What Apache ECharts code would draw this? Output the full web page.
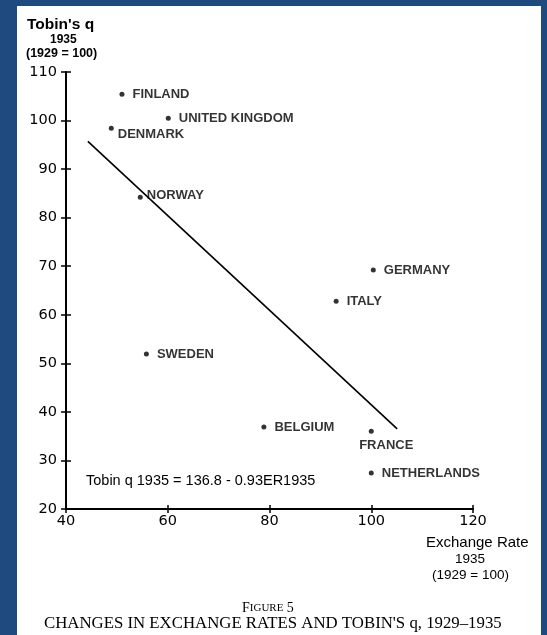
<!DOCTYPE html>
<html>
<head>
<meta charset="utf-8">
<script src="https://cdn.jsdelivr.net/npm/echarts@6/dist/echarts.min.js"></script>
<style>
html,body{margin:0;padding:0;background:#1f4a7f;}
#paper{position:absolute;left:17px;top:6px;width:524px;height:629px;background:#ffffff;}
#chart{position:absolute;left:0;top:0;width:547px;height:635px;}
</style>
</head>
<body>
<div id="paper"></div>
<div id="chart"></div>
<script>
const countries = ['FINLAND','UNITED KINGDOM','DENMARK','NORWAY','SWEDEN','BELGIUM','GERMANY','ITALY','FRANCE','NETHERLANDS'];
const exchangeRate = [51.0, 60.1, 48.9, 54.6, 55.8, 78.9, 100.4, 93.1, 100.0, 100.0];
const tobinQ = [105.4, 100.5, 98.4, 84.2, 51.9, 36.9, 69.2, 62.8, 36.0, 27.4];
const fitLineX = [44.3, 105.1];
const fitLineY = [95.7, 36.5];
const xTicks = [40, 60, 80, 100, 120];
const yTicks = [20, 30, 40, 50, 60, 70, 80, 90, 100, 110];

const labelPos = {
  'DENMARK': {position:'right', offset:[-4,6]},
  'FRANCE': {position:'bottom', offset:[15,-3]},
  'NORWAY': {position:'right', offset:[-4,-2]}
};

const pts = countries.map((c,i)=>{
  const lp = labelPos[c] || {position:'right', offset:[0,0]};
  return {value:[exchangeRate[i], tobinQ[i]], name:c,
    label:{show:true, position:lp.position, offset:lp.offset, distance:8, formatter:c,
      fontFamily:'Liberation Sans, Arial, sans-serif', fontWeight:'bold', fontSize:13, color:'#000'}};
});

const chart = echarts.init(document.getElementById('chart'), null, {renderer:'canvas'});
const axisFont = {fontFamily:'DejaVu Sans, sans-serif', fontSize:14.5, color:'#000'};
chart.setOption({
  backgroundColor:'transparent',
  animation:false,
  grid:{left:66, top:72, right:74, bottom:126, containLabel:false},
  xAxis:[{
    type:'value', min:xTicks[0], max:xTicks[xTicks.length-1], interval:20,
    axisLine:{show:true, lineStyle:{color:'#000', width:2}},
    axisTick:{show:true, length:4, lineStyle:{color:'#000', width:1.5}},
    axisLabel:{...axisFont, margin:5},
    splitLine:{show:false}
  },{
    type:'value', min:xTicks[0], max:xTicks[xTicks.length-1], interval:20, position:'bottom',
    axisLine:{show:false}, axisTick:{show:true, inside:true, length:4, lineStyle:{color:'#000', width:1.5}},
    axisLabel:{show:false}, splitLine:{show:false}
  }],
  yAxis:[{
    type:'value', min:yTicks[0], max:yTicks[yTicks.length-1], interval:10,
    axisLine:{show:true, lineStyle:{color:'#000', width:2}},
    axisTick:{show:true, length:5, lineStyle:{color:'#000', width:1.5}},
    axisLabel:{...axisFont, margin:9},
    splitLine:{show:false}
  },{
    type:'value', min:yTicks[0], max:yTicks[yTicks.length-1], interval:10, position:'left',
    axisLine:{show:false}, axisTick:{show:true, inside:true, length:5, lineStyle:{color:'#000', width:1.5}},
    axisLabel:{show:false}, splitLine:{show:false}
  }],
  series:[{
    type:'scatter', xAxisIndex:0, yAxisIndex:0,
    symbol:'circle', symbolSize:5, itemStyle:{color:'#000'},
    data:pts
  },{
    type:'line', xAxisIndex:0, yAxisIndex:0, symbol:'none',
    lineStyle:{color:'#000', width:1.6},
    data:fitLineX.map((x,i)=>[x, fitLineY[i]])
  }],
  graphic:[
    {type:'text', left:27, top:17, style:{text:"Tobin's q", font:'bold 15.5px Liberation Sans, Arial, sans-serif', fill:'#000'}},
    {type:'text', left:50, top:34, style:{text:'1935', font:'bold 12px Liberation Sans, Arial, sans-serif', fill:'#000'}},
    {type:'text', left:26, top:47, style:{text:'(1929 = 100)', font:'bold 12.5px Liberation Sans, Arial, sans-serif', fill:'#000'}},
    {type:'text', left:86, top:473, style:{text:'Tobin q 1935 = 136.8 - 0.93ER1935', font:'14.5px Liberation Sans, Arial, sans-serif', fill:'#000'}},
    {type:'text', left:426, top:535, style:{text:'Exchange Rate', font:'15px Liberation Sans, Arial, sans-serif', fill:'#000'}},
    {type:'text', left:455, top:552, style:{text:'1935', font:'13.5px Liberation Sans, Arial, sans-serif', fill:'#000'}},
    {type:'text', left:432, top:568, style:{text:'(1929 = 100)', font:'13.5px Liberation Sans, Arial, sans-serif', fill:'#000'}},
    {type:'text', left:242, top:601, style:{
      text:'{a|F}{b|IGURE} {a|5}',
      rich:{a:{font:'14px Liberation Serif, serif', fill:'#000', color:'#000'}, b:{font:'11px Liberation Serif, serif', fill:'#000', color:'#000'}}}},
    {type:'text', left:44, top:615, style:{text:"CHANGES IN EXCHANGE RATES AND TOBIN'S q, 1929–1935", font:'16.8px Liberation Serif, serif', fill:'#000'}}
  ]
});
</script>
</body>
</html>
